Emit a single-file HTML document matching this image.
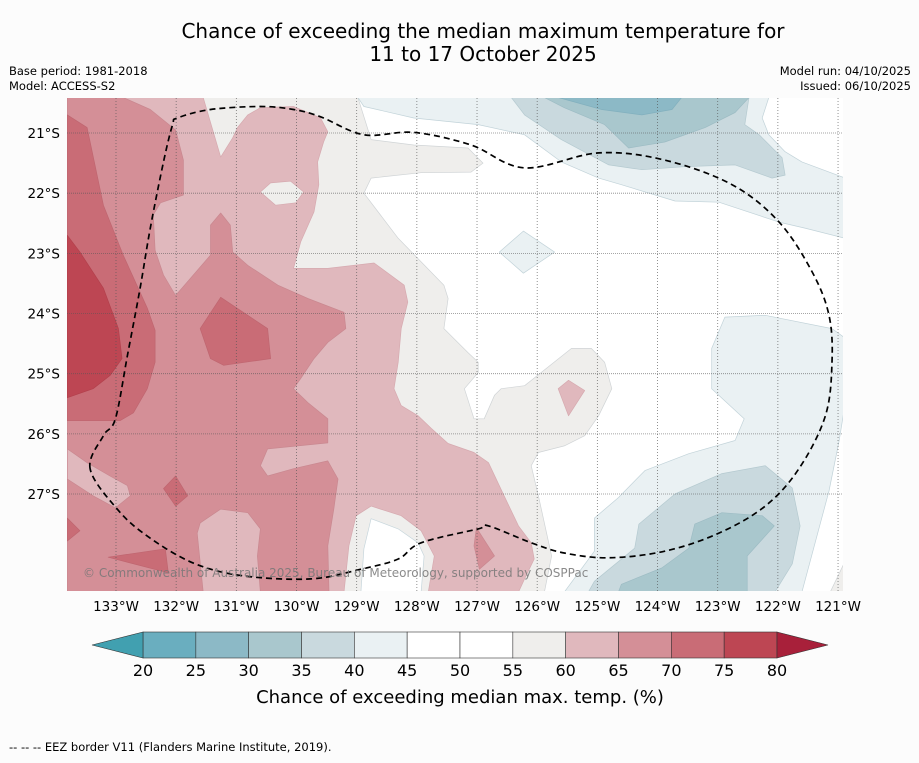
<!DOCTYPE html>
<html><head><meta charset="utf-8"><style>
html,body{margin:0;padding:0;background:#fcfcfc;}
body{width:919px;height:758px;overflow:hidden;font-family:"Liberation Sans","DejaVu Sans",sans-serif;}
svg text{font-family:"DejaVu Sans","Liberation Sans",sans-serif;}
</style></head><body>
<svg id="chart" width="919" height="758" viewBox="0 0 919 758" xmlns="http://www.w3.org/2000/svg">
<text x="483" y="38" font-size="20" text-anchor="middle" fill="#000">Chance of exceeding the median maximum temperature for</text>
<text x="483" y="61" font-size="20" text-anchor="middle" fill="#000">11 to 17 October 2025</text>
<text x="9" y="75" font-size="11.5" fill="#000">Base period: 1981-2018</text>
<text x="9" y="90" font-size="11.5" fill="#000">Model: ACCESS-S2</text>
<text x="911" y="75" font-size="11.5" text-anchor="end" fill="#000">Model run: 04/10/2025</text>
<text x="911" y="90" font-size="11.5" text-anchor="end" fill="#000">Issued: 06/10/2025</text>
<defs><clipPath id="plotclip"><rect x="67" y="98" width="776" height="493"/></clipPath></defs>
<rect x="67" y="98" width="776" height="493" fill="#ffffff"/>
<g id="contours" clip-path="url(#plotclip)"></g>
<g id="grid" clip-path="url(#plotclip)"></g>
<g id="eez" clip-path="url(#plotclip)"></g>
<text x="83" y="577" font-size="12" fill="#777" fill-opacity="0.85">© Commonwealth of Australia 2025, Bureau of Meteorology, supported by COSPPac</text>
<g id="axes"></g>
<g id="colorbar"></g>
<text x="460" y="703" font-size="18" text-anchor="middle" fill="#000">Chance of exceeding median max. temp. (%)</text>
<text x="9" y="751" font-size="11.5" fill="#000">--  --  -- EEZ border V11 (Flanders Marine Institute, 2019).</text>
</svg>
<script>
// ---- data ----
const lonTicks = [133,132,131,130,129,128,127,126,125,124,123,122,121];
const latTicks = [21,22,23,24,25,26,27];
const cbLevels = [20,25,30,35,40,45,50,55,60,65,70,75,80];
const cbColors = ["#6aaebf","#8cb9c6","#a9c7cd","#c9d9de","#eaf1f3","#ffffff","#ffffff","#efeeec","#e0b8bd","#d48f97","#c96c76","#bd4653"];
const cbUnder = "#41a0b0";
const cbOver = "#a8203a";
// contour regions: [lonW, latS] vertices, painted in order
const regGrey = [[133.81,20.41],[128.98,20.41],[128.76,21.11],[128.05,21.2],[127.15,21.25],[126.9,21.5],[127.1,21.65],[127.93,21.66],[128.76,21.75],[128.88,22.0],[128.31,22.75],[127.55,23.53],[127.48,23.75],[127.55,24.25],[127.15,24.65],[126.98,24.81],[126.98,24.98],[127.21,25.25],[127.05,25.75],[126.88,25.75],[126.71,25.36],[126.6,25.25],[126.21,25.2],[125.43,24.58],[125.1,24.58],[124.88,24.81],[124.76,25.25],[124.98,25.7],[125.21,26.03],[125.55,26.2],[125.98,26.31],[126.1,26.53],[125.98,27.03],[125.76,28.03],[125.88,28.63],[133.81,28.63]];
const regWhiteIsland = [[128.76,27.41],[128.31,27.58],[127.98,27.81],[127.88,28.03],[127.93,28.63],[128.93,28.63],[128.88,27.91]];
const regPink60 = [[133.81,20.41],[131.55,20.41],[131.26,21.4],[131.06,21.08],[130.98,20.91],[130.81,20.7],[130.6,20.58],[130.05,20.56],[129.6,20.75],[129.48,20.98],[129.55,21.15],[129.65,21.48],[129.63,21.86],[129.71,22.31],[129.93,22.81],[130.05,23.25],[129.48,23.25],[128.71,23.16],[128.21,23.53],[128.15,23.81],[128.26,24.25],[128.31,24.81],[128.38,25.25],[128.26,25.53],[127.98,25.7],[127.76,25.91],[127.48,26.16],[127.05,26.31],[126.81,26.48],[126.55,27.03],[126.31,27.53],[126.1,27.81],[126.05,28.08],[126.21,28.41],[126.31,28.63],[127.81,28.63],[127.71,28.03],[127.93,27.61],[128.26,27.36],[128.76,27.2],[129.01,27.36],[129.13,27.86],[129.21,28.63],[133.81,28.63]];
const regGreyIsland = [[130.6,21.98],[130.43,21.83],[130.1,21.8],[129.88,21.98],[130.01,22.16],[130.35,22.2]];
const regPink65 = [[133.81,20.41],[132.88,20.41],[132.43,20.61],[132.01,20.95],[131.88,21.45],[131.88,22.03],[132.26,22.16],[132.38,22.36],[132.35,22.95],[132.21,23.36],[132.01,23.7],[131.43,23.03],[131.43,22.53],[131.26,22.33],[131.1,22.53],[131.06,22.98],[130.81,23.2],[130.31,23.53],[129.81,23.75],[129.21,23.98],[129.18,24.25],[129.48,24.48],[129.71,24.75],[129.93,25.08],[130.05,25.25],[129.81,25.48],[129.48,25.75],[129.48,26.15],[130.48,26.25],[130.6,26.53],[130.48,26.7],[130.05,26.58],[129.48,26.45],[129.31,26.75],[129.38,27.25],[129.48,27.86],[129.46,28.63],[130.6,28.63],[130.65,28.03],[130.6,27.58],[130.81,27.31],[131.26,27.25],[131.6,27.48],[131.65,27.65],[131.55,28.63],[133.81,28.63]];
const regPink60Lobe = [[133.81,26.25],[133.48,26.48],[133.1,26.7],[132.81,26.86],[132.76,27.03],[133.01,27.23],[133.38,27.03],[133.81,26.75]];
const regPink65Small = [[127.01,27.56],[126.71,28.03],[126.96,28.25],[127.05,27.86]];
const regPink60Small = [[125.65,25.25],[125.48,25.11],[125.21,25.28],[125.48,25.7]];
const regPink70 = [[133.81,20.7],[133.48,20.91],[133.21,22.2],[132.88,23.03],[132.48,23.91],[132.35,24.28],[132.35,24.81],[132.48,25.25],[132.71,25.65],[132.93,25.78],[133.81,25.78]];
const regPink70b = [[131.6,24.25],[131.26,23.73],[130.48,24.25],[130.43,24.75],[131.21,24.86],[131.43,24.75]];
const regPink70c = [[132.21,26.91],[132.01,26.7],[131.81,27.03],[132.01,27.2]];
const regPink70d = [[133.13,28.05],[132.18,27.91],[132.13,28.31]];
const regPink70e = [[133.81,27.4],[133.6,27.61],[133.81,27.78]];
const regPink75 = [[133.81,22.7],[133.6,22.98],[133.21,23.58],[132.96,24.25],[132.9,24.75],[133.1,25.03],[133.38,25.25],[133.81,25.4]];
const regBlue40Top = [[128.98,20.41],[122.15,20.41],[122.26,20.75],[122.15,21.03],[121.88,21.31],[121.6,21.48],[120.88,21.75],[120.88,22.75],[121.55,22.58],[121.98,22.48],[122.98,22.15],[123.71,22.13],[124.6,21.86],[124.98,21.75],[125.6,21.48],[126.21,21.03],[126.98,20.86],[128.05,20.75],[128.88,20.56]];
const regBlue35Top = [[126.43,20.41],[122.48,20.41],[122.55,20.86],[122.31,21.03],[121.93,21.41],[121.88,21.7],[122.1,21.75],[122.71,21.53],[123.55,21.56],[124.26,21.61],[124.81,21.53],[125.6,21.11],[126.21,20.7]];
const regBlue30Top = [[125.88,20.41],[125.55,20.58],[124.88,20.86],[124.48,21.25],[123.88,21.15],[123.21,20.91],[122.71,20.66],[122.48,20.41]];
const regBlue25Top = [[125.65,20.41],[124.93,20.61],[124.26,20.7],[123.76,20.61],[123.6,20.41]];
const regBlue40Diamond = [[126.63,22.98],[126.23,22.63],[125.71,22.98],[126.23,23.33]];
const regBlue40Right = [[122.88,24.06],[122.21,24.03],[121.1,24.25],[120.88,24.41],[120.88,25.48],[120.98,26.11],[121.15,26.95],[121.6,28.63],[125.55,28.63],[125.05,27.95],[125.05,27.4],[124.65,27.06],[124.21,26.61],[123.48,26.33],[122.71,26.11],[122.56,25.75],[123.1,25.25],[123.1,24.58]];
const regGreyCorner = [[120.88,28.11],[121.13,28.63],[120.88,28.63]];
const regBlue35Bot = [[125.15,28.63],[125.05,28.45],[124.38,27.9],[124.31,27.5],[123.71,27.0],[122.93,26.66],[122.21,26.53],[121.76,26.9],[121.63,27.53],[121.76,28.16],[122.05,28.63]];
const regBlue30Bot = [[124.65,28.63],[124.6,28.5],[123.93,28.23],[123.48,27.9],[123.38,27.5],[122.93,27.31],[122.26,27.36],[122.06,27.53],[122.51,28.03],[122.51,28.63]];
const eezLine = [[133.43,26.58],[133.21,26.03],[133.01,25.75],[132.81,24.7],[132.6,23.58],[132.43,22.58],[132.21,21.48],[132.06,20.86],[131.98,20.75],[131.43,20.61],[130.6,20.56],[130.05,20.61],[129.6,20.73],[128.88,21.03],[128.05,20.99],[127.1,21.2],[126.21,21.58],[124.98,21.33],[123.88,21.45],[122.76,21.86],[121.98,22.48],[121.43,23.31],[121.15,24.03],[121.1,24.81],[121.21,25.7],[121.65,26.58],[122.21,27.2],[122.98,27.65],[123.88,27.95],[124.81,28.06],[125.55,27.98],[126.1,27.81],[126.81,27.53],[126.98,27.58],[127.93,27.81],[128.31,28.08],[128.93,28.25],[129.76,28.41],[130.88,28.36],[131.71,28.15],[132.48,27.7],[132.98,27.25],[133.43,26.58]];
// ---- projection ----
const PX = 60.17;
function X(lon){ return 116 + (133 - lon) * PX; }
function Y(lat){ return 133 + (lat - 21) * PX; }
const NS = "http://www.w3.org/2000/svg";
function mk(tag, attrs, parent){ const e = document.createElementNS(NS, tag); for (const k in attrs) e.setAttribute(k, attrs[k]); parent.appendChild(e); return e; }
const cont = document.getElementById('contours');
function region(pts, fill, stroke, name){
  const d = pts.map((p,i)=>(i?'L':'M')+X(p[0]).toFixed(1)+','+Y(p[1]).toFixed(1)).join('')+'Z';
  const e = mk('path', {d:d, fill:fill, stroke:stroke, 'stroke-width':0.7, 'stroke-linejoin':'round'}, cont);
  
  
}
region(regGrey, cbColors[7], '#d0d4d6', 'region-55-60');
region(regWhiteIsland, '#ffffff', '#c7d6dc', 'region-50-55-island');
region(regPink60, cbColors[8], '#d6aab0', 'region-60-65');
region(regGreyIsland, cbColors[7], '#d6aab0', 'region-55-60-island');
region(regPink65, cbColors[9], '#c98890', 'region-65-70');
region(regPink60Lobe, cbColors[8], '#c98890', 'region-60-65-lobe');
region(regPink65Small, cbColors[9], '#c98890', 'region-65-70-small');
region(regPink60Small, cbColors[8], '#d6aab0', 'region-60-65-small');
region(regPink70, cbColors[10], '#bf6670', 'region-70-75');
region(regPink70b, cbColors[10], '#bf6670', 'region-70-75-blob');
region(regPink70c, cbColors[10], '#bf6670', 'region-70-75-small');
region(regPink70d, cbColors[10], '#bf6670', 'region-70-75-south');
region(regPink70e, cbColors[10], '#bf6670', 'region-70-75-edge');
region(regPink75, cbColors[11], '#b3404c', 'region-75-80');
region(regBlue40Top, cbColors[4], '#c2d3d9', 'region-40-45-north');
region(regBlue35Top, cbColors[3], '#b5cad0', 'region-35-40-north');
region(regBlue30Top, cbColors[2], '#9dbcc4', 'region-30-35-north');
region(regBlue25Top, cbColors[1], '#82b0be', 'region-25-30-north');
region(regBlue40Diamond, cbColors[4], '#c2d3d9', 'region-40-45-diamond');
region(regBlue40Right, cbColors[4], '#c2d3d9', 'region-40-45-south');
region(regGreyCorner, cbColors[7], '#d0d4d6', 'region-55-60-corner');
region(regBlue35Bot, cbColors[3], '#b5cad0', 'region-35-40-south');
region(regBlue30Bot, cbColors[2], '#9dbcc4', 'region-30-35-south');
// grid + ticks
const grid = document.getElementById('grid'), axes = document.getElementById('axes');
lonTicks.forEach(l=>{
  const g = mk('line',{x1:X(l),x2:X(l),y1:98,y2:591,stroke:'#555','stroke-width':0.8,'stroke-dasharray':'1,2','stroke-opacity':0.8},grid);
  
  
  const t = mk('text',{x:X(l),y:611,'font-size':13.5,'text-anchor':'middle',fill:'#000'},axes);
  t.textContent = l+'°W';
  
  
});
latTicks.forEach(l=>{
  const g = mk('line',{x1:67,x2:843,y1:Y(l),y2:Y(l),stroke:'#555','stroke-width':0.8,'stroke-dasharray':'1,1','stroke-opacity':0.7},grid);
  
  
  const t = mk('text',{x:60,y:Y(l)+5,'font-size':13.5,'text-anchor':'end',fill:'#000'},axes);
  t.textContent = l+'°S';
  
  
});
// EEZ (smoothed closed curve)
function smoothClosed(pts){
  const P = pts.slice(0,-1).map(p=>[X(p[0]),Y(p[1])]);
  const n = P.length; let d = 'M'+P[0][0].toFixed(1)+','+P[0][1].toFixed(1);
  for(let i=0;i<n;i++){
    const p0=P[(i-1+n)%n], p1=P[i], p2=P[(i+1)%n], p3=P[(i+2)%n];
    const c1=[p1[0]+(p2[0]-p0[0])/6, p1[1]+(p2[1]-p0[1])/6];
    const c2=[p2[0]-(p3[0]-p1[0])/6, p2[1]-(p3[1]-p1[1])/6];
    d += 'C'+c1[0].toFixed(1)+','+c1[1].toFixed(1)+' '+c2[0].toFixed(1)+','+c2[1].toFixed(1)+' '+p2[0].toFixed(1)+','+p2[1].toFixed(1);
  }
  return d+'Z';
}
const eez = mk('path',{d:smoothClosed(eezLine),fill:'none',stroke:'#000','stroke-width':1.7,'stroke-dasharray':'6,4'},document.getElementById('eez'));


// colorbar
const cb = document.getElementById('colorbar');
const cbX0 = 143, cbX1 = 777, cbY = 632, cbH = 26;
function CX(v){ return cbX0 + (v - cbLevels[0]) / (cbLevels[cbLevels.length-1] - cbLevels[0]) * (cbX1 - cbX0); }
cbColors.forEach((c,i)=>{
  const r = mk('rect',{x:CX(cbLevels[i]),y:cbY,width:CX(cbLevels[i+1])-CX(cbLevels[i]),height:cbH,fill:c,stroke:'#333','stroke-width':0.6},cb);
  
  
});
const under = mk('polygon',{points:`${CX(cbLevels[0])},${cbY} ${CX(cbLevels[0])-51},${cbY+cbH/2} ${CX(cbLevels[0])},${cbY+cbH}`,fill:cbUnder,stroke:'#333','stroke-width':0.6},cb);


const over = mk('polygon',{points:`${CX(cbLevels[12])},${cbY} ${CX(cbLevels[12])+51},${cbY+cbH/2} ${CX(cbLevels[12])},${cbY+cbH}`,fill:cbOver,stroke:'#333','stroke-width':0.6},cb);


cbLevels.forEach(v=>{
  const t = mk('text',{x:CX(v),y:676,'font-size':16,'text-anchor':'middle',fill:'#000'},cb);
  t.textContent = v;
  
  
});
</script>
</body></html>
